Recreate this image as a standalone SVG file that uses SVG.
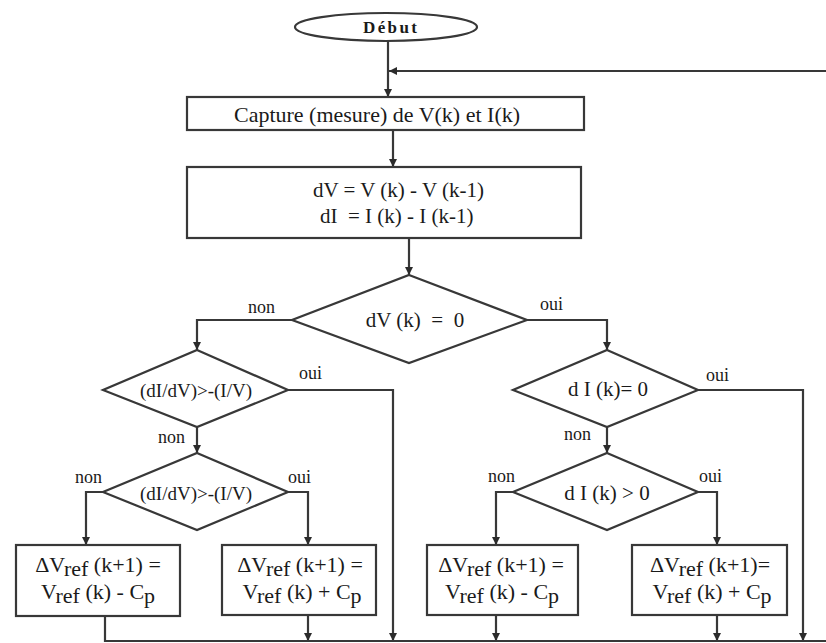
<svg xmlns="http://www.w3.org/2000/svg" width="826" height="643" viewBox="0 0 826 643">
  <defs>
    <marker id="arrow" viewBox="0 0 8 8" refX="8" refY="4" markerWidth="8" markerHeight="8" markerUnits="userSpaceOnUse" orient="auto">
      <path d="M0,0 L8,4 L0,8 z" fill="#2b2b2b"/>
    </marker>
    <style>
      .shape { fill: #ffffff; stroke: #383838; stroke-width: 2.2; }
      .wire { fill: none; stroke: #383838; stroke-width: 2.2; }
      .txt { font-family: "Liberation Serif", "Times New Roman", serif; fill: #1a1a1a; }
      .big { font-size: 22px; }
      .mid { font-size: 21px; }
      .eq { font-size: 22px; }
      .lbl { font-size: 18px; }
    </style>
  </defs>
  <rect width="826" height="643" fill="#ffffff"/>

  <!-- connectors -->
  <g id="connectors">
    <line class="wire" x1="388" y1="41" x2="388" y2="97" marker-end="url(#arrow)"/>
    <line class="wire" x1="826" y1="71" x2="389" y2="71" marker-end="url(#arrow)"/>
    <line class="wire" x1="393" y1="130" x2="393" y2="167" marker-end="url(#arrow)"/>
    <line class="wire" x1="409" y1="238" x2="409" y2="275" marker-end="url(#arrow)"/>
    <polyline class="wire" points="292,320 197,320 197,350" marker-end="url(#arrow)"/>
    <polyline class="wire" points="527,320 607,320 607,350" marker-end="url(#arrow)"/>
    <polyline class="wire" points="288,390 393,390 393,641" marker-end="url(#arrow)"/>
    <line class="wire" x1="197" y1="427" x2="197" y2="453" marker-end="url(#arrow)"/>
    <polyline class="wire" points="103,492 86,492 86,545" marker-end="url(#arrow)"/>
    <polyline class="wire" points="288,492 308,492 308,545" marker-end="url(#arrow)"/>
    <line class="wire" x1="308" y1="615" x2="308" y2="641" marker-end="url(#arrow)"/>
    <polyline class="wire" points="698,390 803,390 803,641" marker-end="url(#arrow)"/>
    <line class="wire" x1="607" y1="427" x2="607" y2="453" marker-end="url(#arrow)"/>
    <polyline class="wire" points="513,492 496,492 496,545" marker-end="url(#arrow)"/>
    <polyline class="wire" points="698,492 717,492 717,545" marker-end="url(#arrow)"/>
    <line class="wire" x1="496" y1="615" x2="496" y2="641" marker-end="url(#arrow)"/>
    <line class="wire" x1="717" y1="615" x2="717" y2="641" marker-end="url(#arrow)"/>
    <polyline class="wire" points="105,616 105,641 826,641"/>
  </g>

  <!-- branch labels -->
  <g id="labels" class="txt lbl">
    <text x="248" y="313">non</text>
    <text x="540" y="310">oui</text>
    <text x="299" y="379">oui</text>
    <text x="158" y="443">non</text>
    <text x="75" y="483">non</text>
    <text x="288" y="483">oui</text>
    <text x="706" y="381">oui</text>
    <text x="564" y="440">non</text>
    <text x="488" y="482">non</text>
    <text x="699" y="482">oui</text>
  </g>

  <g id="start">
    <ellipse class="shape" cx="386" cy="27" rx="91" ry="14"/>
    <text class="txt" x="390" y="33" font-size="17" font-weight="bold" text-anchor="middle" textLength="54" lengthAdjust="spacing">Début</text>
  </g>

  <g id="capture">
    <rect class="shape" x="187" y="97" width="397" height="33"/>
    <text class="txt big" x="377" y="122" text-anchor="middle">Capture (mesure) de V(k) et I(k)</text>
  </g>

  <g id="deltas">
    <rect class="shape" x="187" y="167" width="394" height="71"/>
    <text class="txt mid" x="313" y="197">dV = V (k) - V (k-1)</text>
    <text class="txt mid" x="320" y="223" xml:space="preserve">dI  = I (k) - I (k-1)</text>
  </g>

  <g id="test-dv">
    <polygon class="shape" points="409,275 527,320 409,363 292,320"/>
    <text class="txt mid" x="415" y="327" text-anchor="middle" xml:space="preserve">dV (k)  =  0</text>
  </g>

  <g id="test-slope-a">
    <polygon class="shape" points="197,350 288,390 197,427 103,390"/>
    <text class="txt" font-size="19" x="140" y="397" textLength="112" lengthAdjust="spacingAndGlyphs">(dI/dV)&gt;-(I/V)</text>
  </g>

  <g id="test-slope-b">
    <polygon class="shape" points="197,453 288,492 197,530 103,492"/>
    <text class="txt" font-size="19" x="140" y="500" textLength="112" lengthAdjust="spacingAndGlyphs">(dI/dV)&gt;-(I/V)</text>
  </g>

  <g id="test-di-zero">
    <polygon class="shape" points="607,350 698,390 607,427 513,390"/>
    <text class="txt mid" x="608" y="396" text-anchor="middle">d I (k)= 0</text>
  </g>

  <g id="test-di-pos">
    <polygon class="shape" points="607,453 698,492 607,530 513,492"/>
    <text class="txt mid" x="607" y="500" text-anchor="middle">d I (k) &gt; 0</text>
  </g>

  <g id="step-down-a">
    <rect class="shape" x="16" y="545" width="164" height="71"/>
    <text class="txt eq" x="98" y="572" text-anchor="middle">ΔV<tspan dy="4">ref</tspan><tspan dy="-4"> (k+1) =</tspan></text>
    <text class="txt eq" x="98" y="599" text-anchor="middle">V<tspan dy="4">ref</tspan><tspan dy="-4"> (k) - C</tspan><tspan dy="4">p</tspan></text>
  </g>

  <g id="step-up-a">
    <rect class="shape" x="222" y="545" width="154" height="70"/>
    <text class="txt eq" x="300" y="572" text-anchor="middle">ΔV<tspan dy="4">ref</tspan><tspan dy="-4"> (k+1) =</tspan></text>
    <text class="txt eq" x="302" y="599" text-anchor="middle">V<tspan dy="4">ref</tspan><tspan dy="-4"> (k) + C</tspan><tspan dy="4">p</tspan></text>
  </g>

  <g id="step-down-b">
    <rect class="shape" x="427" y="545" width="151" height="70"/>
    <text class="txt eq" x="501" y="572" text-anchor="middle">ΔV<tspan dy="4">ref</tspan><tspan dy="-4"> (k+1) =</tspan></text>
    <text class="txt eq" x="502" y="599" text-anchor="middle">V<tspan dy="4">ref</tspan><tspan dy="-4"> (k) - C</tspan><tspan dy="4">p</tspan></text>
  </g>

  <g id="step-up-b">
    <rect class="shape" x="632" y="545" width="155" height="70"/>
    <text class="txt eq" x="710" y="572" text-anchor="middle">ΔV<tspan dy="4">ref</tspan><tspan dy="-4"> (k+1)=</tspan></text>
    <text class="txt eq" x="712" y="599" text-anchor="middle">V<tspan dy="4">ref</tspan><tspan dy="-4"> (k) + C</tspan><tspan dy="4">p</tspan></text>
  </g>
</svg>
